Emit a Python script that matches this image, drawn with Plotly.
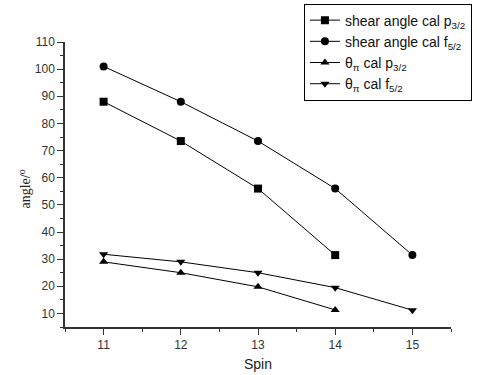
import plotly.graph_objects as go

spin_a = [11, 12, 13, 14]
spin_b = [11, 12, 13, 14, 15]
shear_p32 = [88, 73.5, 56, 31.5]
shear_f52 = [101, 88, 73.5, 56, 31.5]
theta_p32 = [29, 25, 19.8, 11.3]
theta_f52 = [31.8, 29, 25, 19.5, 11.2]

names = [
    "shear angle cal p<sub>3/2</sub>",
    "shear angle cal f<sub>5/2</sub>",
    "θ<sub>π</sub> cal p<sub>3/2</sub>",
    "θ<sub>π</sub> cal f<sub>5/2</sub>",
]
xs = [spin_a, spin_b, spin_a, spin_b]
ys = [shear_p32, shear_f52, theta_p32, theta_f52]
symbols = ["square", "circle", "triangle-up", "triangle-down"]

fig = go.Figure()
for x, y, n, s in zip(xs, ys, names, symbols):
    fig.add_trace(go.Scatter(
        x=x, y=y, name=n, mode="lines+markers",
        line=dict(color="black", width=1),
        marker=dict(symbol=s, size=8, color="black"),
    ))

axis_common = dict(
    showgrid=False, zeroline=False, showline=True, linecolor="#333", linewidth=1.5,
    ticks="outside", ticklen=6, tickwidth=1.2, tickcolor="#333",
    tickfont=dict(family="Liberation Sans, Arial", size=12, color="#333"),
    mirror=False,
)
fig.update_xaxes(range=[10.5, 15.5], tickvals=[11, 12, 13, 14, 15],
                 minor=dict(ticks="outside", ticklen=3, dtick=0.5, tick0=10.5, tickcolor="#333"),
                 title=dict(text="Spin", font=dict(family="Liberation Sans, Arial", size=14, color="#222"), standoff=8),
                 **axis_common)
fig.update_yaxes(range=[5, 110], tickvals=list(range(10, 111, 10)),
                 minor=dict(ticks="outside", ticklen=3, dtick=5, tick0=5, tickcolor="#333"),
                 **axis_common)

fig.add_annotation(text="angle/<sup>o</sup>", xref="paper", yref="paper",
                   x=-0.106, y=0.5, yshift=-5, textangle=-90, showarrow=False,
                   xanchor="center", yanchor="middle",
                   font=dict(family="Liberation Serif, Times New Roman", size=14, color="#222"))

fig.update_layout(
    width=477, height=375,
    margin=dict(l=65, r=26, t=42, b=48, autoexpand=False),
    plot_bgcolor="white", paper_bgcolor="white",
    showlegend=True,
    legend=dict(x=0.619, y=1.135, xanchor="left", yanchor="top",
                bordercolor="black", borderwidth=1, bgcolor="white",
                font=dict(family="Liberation Sans, Arial", size=14, color="#111"),
                tracegroupgap=0, itemwidth=30),
)

fig.write_html("out.html", config={"displayModeBar": False},
               post_script="document.body.style.margin='0';document.body.style.padding='0';")
